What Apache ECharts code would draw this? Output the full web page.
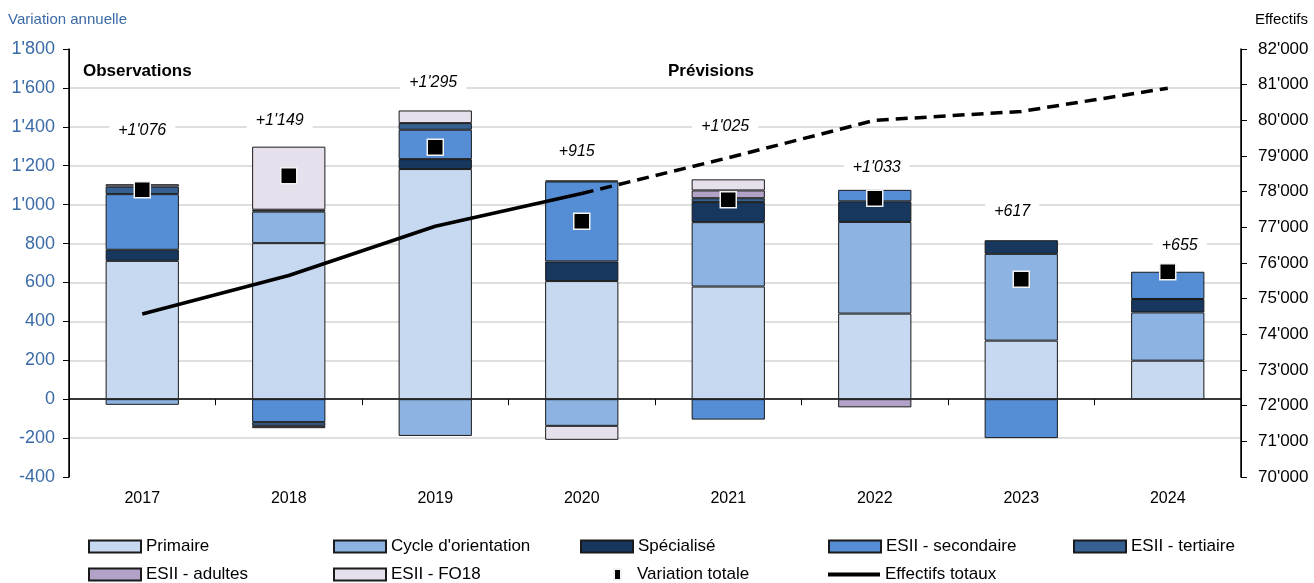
<!DOCTYPE html>
<html>
<head>
<meta charset="utf-8">
<script src="https://cdn.jsdelivr.net/npm/echarts@6/dist/echarts.min.js"></script>
<style>
  html, body { margin: 0; padding: 0; background: #fff; }
  #chart { width: 1314px; height: 583px; }
</style>
</head>
<body>
<div id="chart"></div>
<script>
// années et données
const years = ['2017', '2018', '2019', '2020', '2021', '2022', '2023', '2024'];

const primaire   = [711, 802, 1183, 607, 579, 440, 301, 198];
const cycle      = [-29, 162, -189, -137, 331, 471, 446, 248];
const specialise = [57, 10, 51, 101, 103, 106, 70, 69];
const secondaire = [286, -118, 151, 411, -105, 59, -200, 140];
const tertiaire  = [39, -19, 34, 5, 20, 0, 0, 0];
const adultes    = [12, -12, 0, 0, 40, -42, 0, 0];
const fo18       = [0, 324, 65, -72, 57, 0, 0, 0];

const variationTotale = [1076, 1149, 1295, 915, 1025, 1033, 617, 655];
const effectifsTotaux = [74570, 75650, 77030, 77950, 78950, 80000, 80250, 80900];
const lastObservedIndex = 3; // 2020 = dernière année observée

const FONT = "'Liberation Sans', Arial, sans-serif";
const BLUE_TXT = '#3b6aa6';

// 1'076
function fmt(n) {
  return String(n).replace(/\B(?=(\d{3})+(?!\d))/g, "'");
}

const barDefs = [
  { name: 'Primaire', data: primaire, color: '#c6d9f0' },
  { name: "Cycle d'orientation", data: cycle, color: '#8db3e2' },
  { name: 'Spécialisé', data: specialise, color: '#17375e' },
  { name: 'ESII - secondaire', data: secondaire, color: '#558ed5' },
  { name: 'ESII - tertiaire', data: tertiaire, color: '#366092' },
  { name: 'ESII - adultes', data: adultes, color: '#b3a2c7' },
  { name: 'ESII - FO18', data: fo18, color: '#e6e0ec' }
];

const barSeries = barDefs.map(d => ({
  name: d.name,
  type: 'bar',
  stack: 'total',
  barWidth: '50%',
  xAxisIndex: 0,
  yAxisIndex: 0,
  data: d.data.map(v => (v === 0 ? '-' : v)),
  itemStyle: { color: d.color, borderColor: '#1a1a1a', borderWidth: 1 },
  emphasis: { disabled: true },
  z: 2
}));

// décalage des étiquettes de variation (px) par rapport au carré
const labelShift = [[0, -59], [-9, -55], [-2, -65], [-5, -70], [-3, -73], [2, -31], [-9, -68], [12, -26]];

const solidPart = effectifsTotaux.map((v, i) => (i <= lastObservedIndex ? v : null));
const dashedPart = effectifsTotaux.map((v, i) => (i >= lastObservedIndex ? v : null));

// légende : une par élément pour caler les colonnes
const legendCols = [88, 333, 580, 828, 1073];
const legendRows = [538, 566];
const legendItems = [
  { name: 'Primaire', col: 0, row: 0 },
  { name: "Cycle d'orientation", col: 1, row: 0 },
  { name: 'Spécialisé', col: 2, row: 0 },
  { name: 'ESII - secondaire', col: 3, row: 0 },
  { name: 'ESII - tertiaire', col: 4, row: 0 },
  { name: 'ESII - adultes', col: 0, row: 1 },
  { name: 'ESII - FO18', col: 1, row: 1 },
  { name: 'Variation totale', col: 2, row: 1 },
  { name: 'Effectifs totaux', col: 3, row: 1 }
];

const legends = legendItems.map(it => {
  const lg = {
    left: legendCols[it.col],
    top: legendRows[it.row],
    padding: 0,
    itemWidth: 52,
    itemHeight: 12,
    itemGap: 0,
    selectedMode: false,
    textStyle: { fontFamily: FONT, fontSize: 17, color: '#000' },
    data: [{ name: it.name, icon: 'rect' }]
  };
  if (it.name === 'Variation totale') {
    lg.left = legendCols[it.col] + 33;
    lg.itemWidth = 7;
    lg.itemHeight = 11;
    lg.textStyle = Object.assign({}, lg.textStyle, { padding: [0, 0, 0, 11] });
  }
  if (it.name === 'Effectifs totaux') {
    lg.itemHeight = 4;
    lg.data = [{ name: it.name, icon: 'rect', itemStyle: { color: '#000', borderWidth: 0 } }];
  }
  return lg;
});

const chart = echarts.init(document.getElementById('chart'), null, { renderer: 'canvas' });

const option = {
  animation: false,
  backgroundColor: '#fff',
  textStyle: { fontFamily: FONT },
  title: [
    { text: 'Variation annuelle', left: 8, top: 12, padding: 0,
      textStyle: { fontFamily: FONT, fontSize: 15, fontWeight: 'normal', color: BLUE_TXT } },
    { text: 'Effectifs', right: 6, top: 12, padding: 0,
      textStyle: { fontFamily: FONT, fontSize: 15, fontWeight: 'normal', color: '#000' } },
    { text: 'Observations', left: 83, top: 63, padding: 0,
      textStyle: { fontFamily: FONT, fontSize: 17, fontWeight: 'bold', color: '#000' } },
    { text: 'Prévisions', left: 668, top: 63, padding: 0,
      textStyle: { fontFamily: FONT, fontSize: 17, fontWeight: 'bold', color: '#000' } }
  ],
  legend: legends,
  grid: { left: 69, right: 73, top: 49, bottom: 106 },
  xAxis: [
    {
      type: 'category',
      data: years,
      position: 'bottom',
      axisLine: { show: false, onZero: false },
      axisTick: { show: false },
      axisLabel: { fontFamily: FONT, fontSize: 16, color: '#000', margin: 14 },
      splitLine: {
        show: true,
        interval: function (index) { return index === lastObservedIndex + 1; },
        lineStyle: { color: '#000', width: 1 }
      }
    },
    {
      type: 'category',
      data: years,
      position: 'bottom',
      axisLine: { show: true, onZero: true, onZeroAxisIndex: 0, lineStyle: { color: '#000', width: 1.5 } },
      axisTick: { show: true, length: 6, lineStyle: { color: '#000' } },
      axisLabel: { show: false },
      splitLine: { show: false }
    }
  ],
  yAxis: [
    {
      type: 'value',
      min: -400,
      max: 1800,
      interval: 200,
      axisLine: { show: true, lineStyle: { color: '#000', width: 1.5 } },
      axisTick: { show: true, length: 6, lineStyle: { color: '#000' } },
      axisLabel: { fontFamily: FONT, fontSize: 18, color: BLUE_TXT, margin: 14, formatter: v => fmt(v) },
      splitLine: { show: true, showMinLine: false, showMaxLine: false, lineStyle: { color: '#d4d4d4', width: 1.5 } }
    },
    {
      type: 'value',
      min: 70000,
      max: 82000,
      interval: 1000,
      position: 'right',
      axisLine: { show: true, lineStyle: { color: '#000', width: 1.5 } },
      axisTick: { show: true, length: 6, lineStyle: { color: '#000' } },
      axisLabel: { fontFamily: FONT, fontSize: 17, color: '#000', margin: 17, formatter: v => fmt(v) },
      splitLine: { show: false }
    }
  ],
  series: barSeries.concat([
    {
      name: 'Effectifs totaux',
      type: 'line',
      xAxisIndex: 0,
      yAxisIndex: 1,
      data: solidPart,
      showSymbol: false,
      symbol: 'none',
      lineStyle: { color: '#000', width: 3.5 },
      itemStyle: { color: '#000' },
      z: 5
    },
    {
      name: 'Effectifs totaux (prévisions)',
      type: 'line',
      xAxisIndex: 0,
      yAxisIndex: 1,
      data: dashedPart,
      showSymbol: false,
      symbol: 'none',
      lineStyle: { color: '#000', width: 3.5, type: [12, 7] },
      z: 5
    },
    {
      name: 'Variation totale',
      type: 'scatter',
      xAxisIndex: 0,
      yAxisIndex: 0,
      symbol: 'rect',
      symbolSize: 16,
      itemStyle: { color: '#000', borderColor: '#f2f2f2', borderWidth: 1.5, opacity: 1 },
      emphasis: { disabled: true },
      data: variationTotale.map((v, i) => ({
        value: v,
        label: { offset: labelShift[i] }
      })),
      label: {
        show: true,
        position: 'inside',
        formatter: p => '+' + fmt(p.value),
        fontFamily: FONT,
        fontSize: 16,
        fontStyle: 'italic',
        color: '#000',
        backgroundColor: '#fff',
        padding: [2, 9]
      },
      z: 10
    }
  ])
};

chart.setOption(option);
</script>
</body>
</html>
